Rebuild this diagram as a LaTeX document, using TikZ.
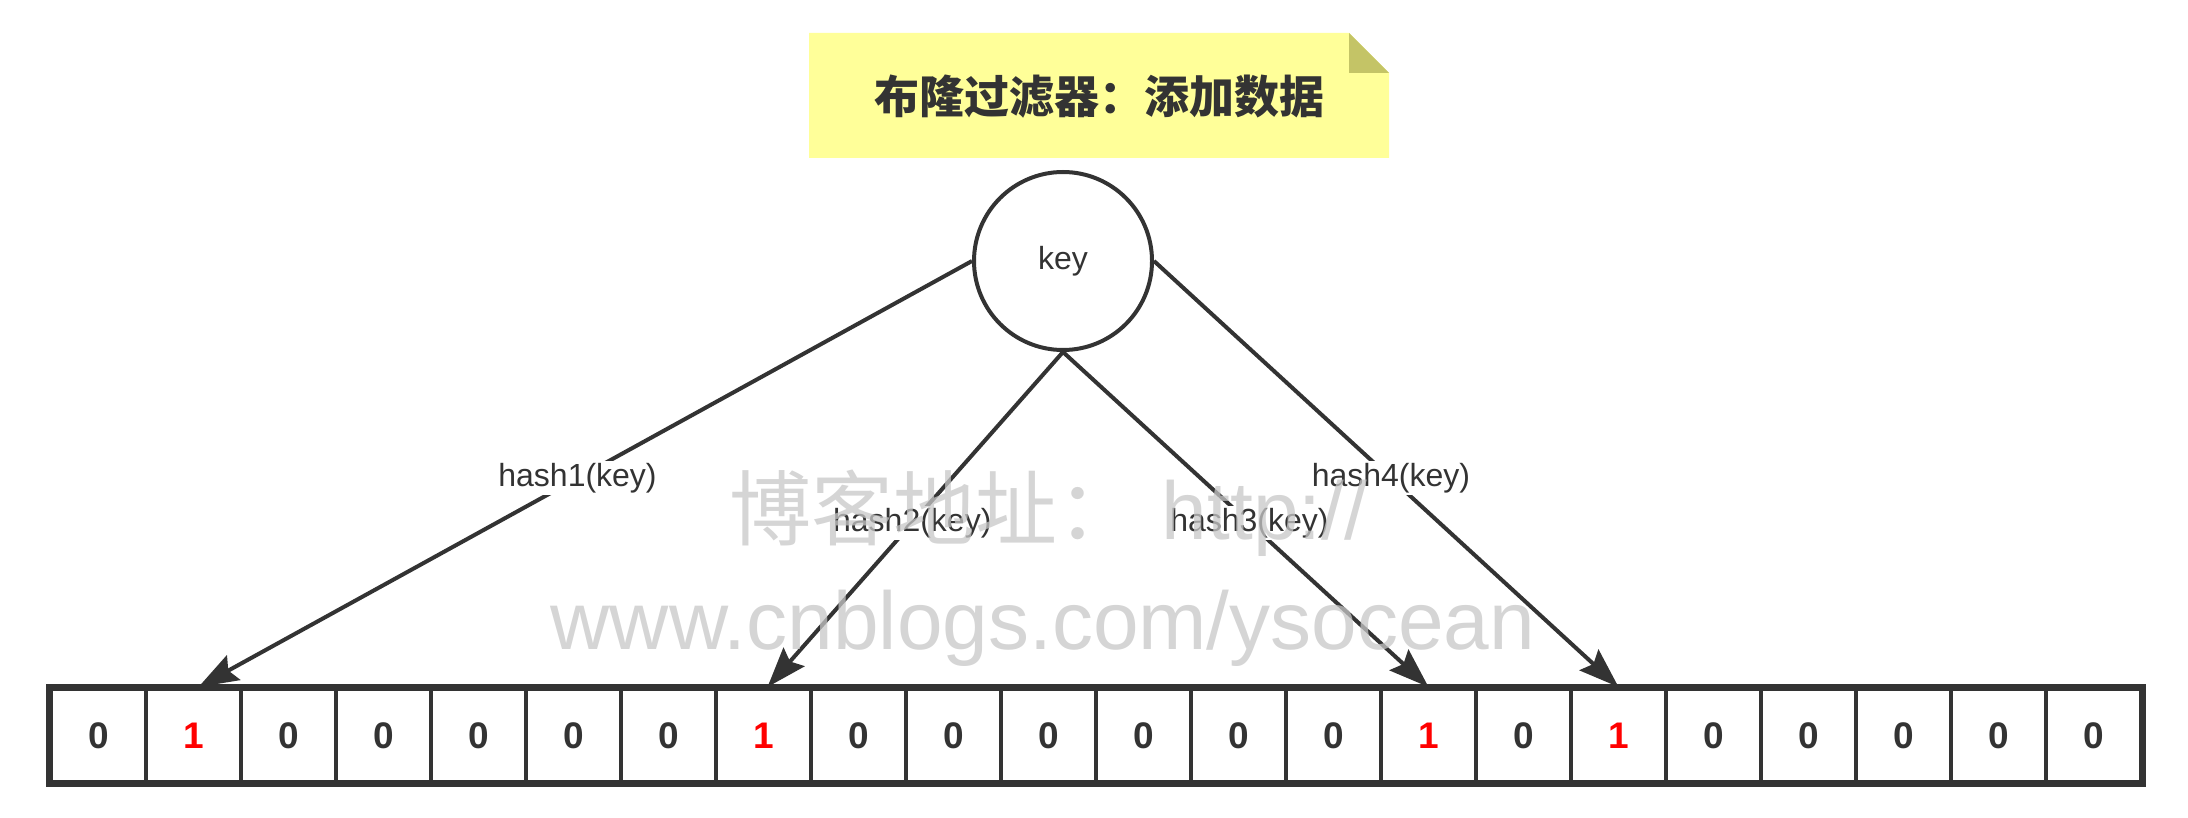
\documentclass[tikz,border=0pt]{standalone}
\usepackage{fontspec}
\setmainfont{Liberation Sans}
\newfontfamily\cjk{Noto Sans CJK SC}
\usetikzlibrary{arrows.meta,positioning}
\definecolor{ink}{HTML}{333333}
\definecolor{notefill}{HTML}{FFFF99}
\definecolor{notefold}{HTML}{C4C466}

\begin{document}
\begin{tikzpicture}[x=0.5pt, y=-0.5pt,
        cell/.style={draw=ink, line width=2pt, minimum width=47.5pt, minimum height=46.5pt,
          inner sep=0pt, font=\fontsize{18.5}{20}\selectfont\bfseries, text=ink},
        bit0/.style={},
        bit1/.style={text=red},
        hashline/.style={draw=ink, line width=2pt, -{Stealth[length=20pt, width=14pt, inset=3pt]}},
        hashlabel/.style={fill=white, inner sep=1pt, font=\fontsize{16}{18}\selectfont, text=ink},
        wmark/.style={text=black!22, opacity=.75, font=\fontsize{41}{44}\selectfont}
      ]
      \useasboundingbox (0,0) rectangle (2188,818);

      % note with folded corner
      \fill[notefill] (809,33) -- (1349,33) -- (1389,73) -- (1389,158) -- (809,158) -- cycle;
      \fill[notefold] (1349,33) -- (1389,73) -- (1349,73) -- cycle;
      \node [font=\cjk\bfseries\fontsize{22.5}{24}\selectfont, text=ink] (title) at (1099,97) {布隆过滤器：添加数据};

      \node [circle, draw=ink, line width=2pt, minimum size=89pt, font=\fontsize{16}{18}\selectfont, text=ink] (key) at (1063,261) {key};

      % bit array
      \foreach \b [count=\i from 0] in {0,1,0,0,0,0,0,1,0,0,0,0,0,0,1,0,1,0,0,0,0,0}
        \node [cell, bit\b] (c\i) at (98.5+95*\i,735.5) {\b};
      \draw [ink, line width=3pt] (c0.north west) rectangle (c21.south east);

      \draw [hashline] (key.west)  -- node[hashlabel, pos=.51] (h1) {hash1(key)} ([xshift=2.5pt]c1.north);
      \draw [hashline] (key.south) -- node[hashlabel, pos=.51] (h2) {hash2(key)} ([xshift=2pt]c7.north);
      \draw [hashline] (key.south) -- node[hashlabel, pos=.51] (h3) {hash3(key)} (c14.north);
      \draw [hashline] (key.east)  -- node[hashlabel, pos=.51] (h4) {hash4(key)} (c16.north);

      % watermark
      \node [wmark] (wm1) at (1048,513) {{\cjk 博客地址：} http://};
      \node [wmark] (wm2) at (1043,628) {www.cnblogs.com/ysocean};
    \end{tikzpicture}
\end{document}
